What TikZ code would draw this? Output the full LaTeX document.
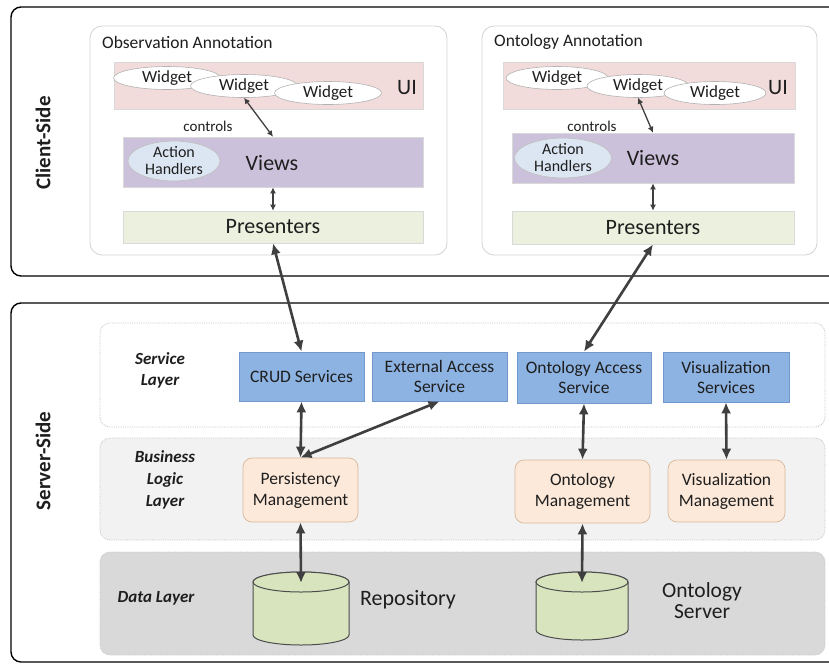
\documentclass[tikz,border=0pt]{standalone}
\usepackage{fontspec}
\setmainfont{Carlito}
\usetikzlibrary{arrows.meta,shapes.geometric}
\definecolor{uipink}{HTML}{F2DCDB}
\definecolor{viewpurple}{HTML}{CCC1DA}
\definecolor{presgreen}{HTML}{EBF1DE}
\definecolor{ahblue}{HTML}{DCE6F2}
\definecolor{svcblue}{HTML}{8DB3E2}
\definecolor{svcborder}{HTML}{7399CC}
\definecolor{mgmtpeach}{HTML}{FDE9D9}
\definecolor{mgmtborder}{HTML}{D8B89A}
\definecolor{cylgreen}{HTML}{D7E4BD}
\definecolor{bizgray}{HTML}{F2F2F2}
\definecolor{datagray}{HTML}{D9D9D9}
\definecolor{txt}{HTML}{1E1E1E}
\definecolor{arrgray}{HTML}{3F3F3F}
\newcommand\myfA{\fontsize{17.5}{20}\selectfont}
\newcommand\myfB{\fontsize{21.5}{21}\selectfont}
\tikzset{
  sidebox/.style={draw=black, line width=1.4pt, rounded corners=10pt},
  annot/.style={draw=gray!35, line width=0.8pt, rounded corners=12pt, fill=white, inner sep=0},
  band/.style={draw=gray!30, line width=0.6pt, inner sep=0},
  widget/.style={ellipse, draw=gray!60, fill=white, line width=0.6pt, inner sep=0, minimum height=23, text=txt, font=\fontsize{17}{20}\selectfont},
  ahand/.style={ellipse, draw=gray!50, fill=ahblue, line width=0.6pt, inner sep=0, minimum height=37, align=center, text=txt, font=\fontsize{16}{17}\selectfont},
  lbl/.style={text=txt, inner sep=0},
  layer/.style={draw=gray!45, densely dotted, line width=0.8pt, rounded corners=10pt, inner sep=0},
  layerlbl/.style={text=txt, inner sep=0, align=center, font=\fontsize{17}{21}\selectfont\bfseries\itshape},
  svc/.style={draw=svcborder, fill=svcblue, line width=0.7pt, inner sep=0, align=center, text=txt, font=\myfA},
  mgmt/.style={draw=mgmtborder, fill=mgmtpeach, line width=0.7pt, rounded corners=9pt, inner sep=0, align=center, text=txt, font=\fontsize{17.5}{21}\selectfont},
  cyl/.style={draw=black!70, fill=cylgreen, line width=1pt},
  bigarr/.style={{Latex[length=11pt,width=10pt]}-{Latex[length=11pt,width=10pt]}, line width=2.6pt, draw=arrgray},
  smallarr/.style={{Latex[length=6pt,width=6pt]}-{Latex[length=6pt,width=6pt]}, line width=1.3pt, draw=arrgray},
}
\begin{document}
\begin{tikzpicture}[x=1pt,y=-1pt]
\useasboundingbox (0,0) rectangle (829,665);
\clip (0,0) rectangle (829,665);
\fill[white] (0,0) rectangle (829,665);

% outer side boxes
\draw[sidebox] (11,7) rectangle (850,276);
\draw[sidebox] (11,303) rectangle (850,662);
\node[lbl, rotate=90, font=\fontsize{21}{24}\selectfont\bfseries] (client) at (43,143) {Client-Side};
\node[lbl, rotate=90, font=\fontsize{21}{24}\selectfont\bfseries] (server) at (43,461) {Server-Side};

% annotation boxes
\node[annot, minimum width=357, minimum height=229] (obsbox) at (268.5,140.5) {};
\node[annot, minimum width=335, minimum height=229] (ontbox) at (649.5,140.5) {};
\node[lbl, anchor=west, font=\myfA] (obstitle) at (102,42) {Observation Annotation};
\node[lbl, anchor=west, font=\myfA] (onttitle) at (494,42) {Ontology Annotation};

% UI bands
\node[band, fill=uipink, minimum width=309, minimum height=47] (ui1) at (268.5,85.5) {};
\node[band, fill=uipink, minimum width=292, minimum height=47] (ui2) at (649,85.5) {};
\node[widget, minimum width=107] (w11) at (167,78) {Widget};
\node[widget, minimum width=107] (w12) at (244,86) {Widget};
\node[widget, minimum width=107] (w13) at (328,93) {Widget};
\node[widget, minimum width=102] (w21) at (557,78) {Widget};
\node[widget, minimum width=102] (w22) at (638,86) {Widget};
\node[widget, minimum width=102] (w23) at (715,93) {Widget};
\node[lbl, font=\fontsize{22}{24}\selectfont] (uil1) at (407,88) {UI};
\node[lbl, font=\fontsize{22}{24}\selectfont] (uil2) at (778,88) {UI};

% Views bands
\node[band, fill=viewpurple, minimum width=300, minimum height=50] (views1) at (273,162) {};
\node[band, fill=viewpurple, minimum width=282, minimum height=50] (views2) at (653,158) {};
\node[ahand, minimum width=92] (ah1) at (174,161) {Action\\Handlers};
\node[ahand, minimum width=97] (ah2) at (563,158) {Action\\Handlers};
\node[lbl, font=\fontsize{22}{24}\selectfont] (vl1) at (272,163) {Views};
\node[lbl, font=\fontsize{22}{24}\selectfont] (vl2) at (653,158) {Views};
\node[lbl, font=\fontsize{15}{17}\selectfont] (ctl1) at (208,126) {controls};
\node[lbl, font=\fontsize{15}{17}\selectfont] (ctl2) at (592,126) {controls};

% Presenters
\node[band, fill=presgreen, minimum width=300, minimum height=32, font=\fontsize{22}{24}\selectfont, text=txt] (pres1) at (273,227) {Presenters};
\node[band, fill=presgreen, minimum width=282, minimum height=33, font=\fontsize{22}{24}\selectfont, text=txt] (pres2) at (653,227.5) {Presenters};

\draw[smallarr] (w12.south) -- (views1.north);
\draw[smallarr] (w22.south) -- (views2.north);
\draw[smallarr] (views1.south) -- (pres1.north);
\draw[smallarr] (views2.south) -- (pres2.north);

% server layers
\node[layer, fill=white, minimum width=725, minimum height=104] (svclayer) at (462.5,375) {};
\node[layer, fill=bizgray, minimum width=725, minimum height=102] (bizlayer) at (462.5,489) {};
\node[layer, fill=datagray, minimum width=725, minimum height=103] (datalayer) at (462.5,603.5) {};
\node[layerlbl] (svclbl) at (160,370) {Service\\Layer};
\node[layerlbl, font=\fontsize{17}{22}\selectfont\bfseries\itshape] (bizlbl) at (165,480) {Business\\Logic\\Layer};
\node[layerlbl] (datalbl) at (156,598) {Data Layer};

% services
\node[svc, minimum width=125, minimum height=49] (crud) at (301.5,376.5) {CRUD Services};
\node[svc, minimum width=135, minimum height=49] (ext) at (439.5,376.5) {External Access\\Service};
\node[svc, minimum width=134, minimum height=51] (ontacc) at (584,377.5) {Ontology Access\\Service};
\node[svc, minimum width=126, minimum height=50] (vis) at (726,377) {Visualization\\Services};

% management
\node[mgmt, minimum width=115, minimum height=64] (pers) at (300.5,490) {Persistency\\Management};
\node[mgmt, minimum width=135, minimum height=63] (ontm) at (582.5,491.5) {Ontology\\Management};
\node[mgmt, minimum width=117, minimum height=62] (vism) at (726.5,491) {Visualization\\Management};

% cylinders
\draw[cyl] (253,582) -- (253,635) arc[start angle=180,end angle=0,x radius=48,y radius=10] -- (349,582) arc[start angle=0,end angle=-180,x radius=48,y radius=10] -- cycle;
\draw[cyl] (301,582) ellipse [x radius=48, y radius=10];
\coordinate (repotop) at (301,583);
\draw[cyl] (536,582) -- (536,630) arc[start angle=180,end angle=0,x radius=46,y radius=10] -- (628,582) arc[start angle=0,end angle=-180,x radius=46,y radius=10] -- cycle;
\draw[cyl] (582,582) ellipse [x radius=46, y radius=10];
\coordinate (ontsrvtop) at (582,583);
\node[lbl, font=\fontsize{22}{24}\selectfont] (repolbl) at (408,600) {Repository};
\node[lbl, align=center, font=\myfB] (ontsrvlbl) at (702,601) {Ontology\\Server};

% big arrows
\draw[bigarr] (pres1.south) -- (crud.north);
\draw[bigarr] (pres2.south) -- (ontacc.north);
\draw[bigarr] (crud.south) -- (pers.north);
\draw[bigarr] (ext.south) -- (pers.north);
\draw[bigarr] (ontacc.south) -- (ontm.north);
\draw[bigarr] (vis.south) -- (vism.north);
\draw[bigarr] (pers.south) -- (repotop);
\draw[bigarr] (ontm.south) -- (ontsrvtop);
\end{tikzpicture}
\end{document}
